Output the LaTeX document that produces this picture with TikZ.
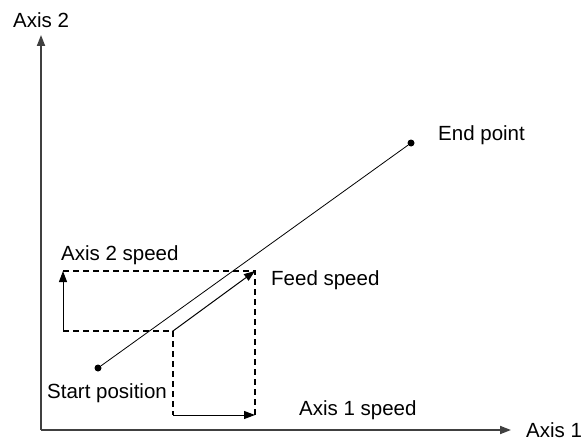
\documentclass[tikz,border=0pt]{standalone}
\usepackage{fontspec}
\setmainfont{Liberation Sans}
\usetikzlibrary{arrows.meta}
\begin{document}
\begin{tikzpicture}[x=1pt,y=-1pt,
  lbl/.style={inner sep=0pt,anchor=base west,font=\fontsize{20.5}{24}\selectfont},
  axis/.style={line width=1.8pt,draw=black!75,-{Triangle[length=11pt,width=8pt]}},
  vec/.style={line width=1pt,-{Triangle[length=11pt,width=8pt]}},
  dashline/.style={line width=1.4pt,dash pattern=on 6pt off 4pt},
  dotpt/.style={circle,fill=black,inner sep=0pt,minimum size=7pt}]
\useasboundingbox (0,0) rectangle (581,444);
% axes
\coordinate (O) at (41,430);
\coordinate (Ytip) at (41,35);
\coordinate (Xtip) at (511,430);
\draw[axis] (O) -- (Ytip);
\draw[axis] (O) -- (Xtip);
\node[lbl] (ax2) at (13,28) {Axis 2};
\node[lbl] (ax1) at (526,437) {Axis 1};
% points
\node[dotpt] (S) at (98,368) {};
\node[dotpt] (E) at (411,143) {};
\draw[line width=0.8pt] (S) -- (E);
\node[lbl] (el) at (438,140) {End point};
\node[lbl] (sl) at (47,398) {Start position};
% speed vectors
\coordinate (F0) at (173,331);
\coordinate (F1) at (255,271);
\coordinate (TL) at (63,271);
\coordinate (BL) at (63,331);
\coordinate (BR) at (255,415);
\coordinate (B0) at (173,415);
\draw[vec] (F0) -- (F1);
\draw[dashline] (TL) -- (F1) -- (BR);
\draw[dashline] (BL) -- (F0) -- (B0);
\draw[vec] (BL) -- (TL);
\draw[vec] (B0) -- (BR);
\node[lbl] (a2s) at (61,260) {Axis 2 speed};
\node[lbl] (fs) at (271,285) {Feed speed};
\node[lbl] (a1s) at (299,415) {Axis 1 speed};
\end{tikzpicture}
\end{document}
